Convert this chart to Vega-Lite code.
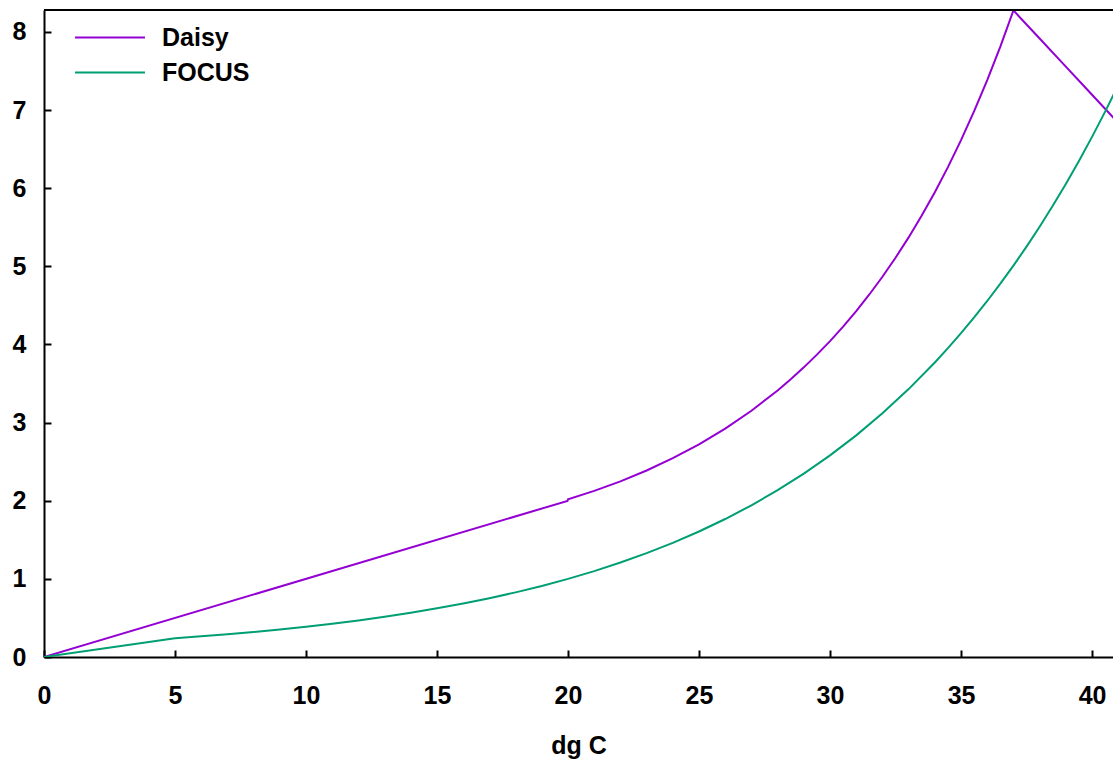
{
  "$schema": "https://vega.github.io/schema/vega-lite/v6.json",
  "width": 1069,
  "height": 647,
  "autosize": {"type": "none"},
  "padding": {"left": 44, "top": 10, "right": 0, "bottom": 103},
  "background": "white",
  "config": {"view": {"stroke": null}, "font": "Liberation Sans"},
  "data": {"values": [
    {"T": 0, "f": 0, "model": "Daisy"},
    {"T": 19.98, "f": 1.998, "model": "Daisy"},
    {"T": 20, "f": 2.0178, "model": "Daisy"},
    {"T": 21, "f": 2.1258, "model": "Daisy"},
    {"T": 22, "f": 2.2482, "model": "Daisy"},
    {"T": 23, "f": 2.3869, "model": "Daisy"},
    {"T": 24, "f": 2.5438, "model": "Daisy"},
    {"T": 25, "f": 2.7217, "model": "Daisy"},
    {"T": 26, "f": 2.9232, "model": "Daisy"},
    {"T": 27, "f": 3.1518, "model": "Daisy"},
    {"T": 28, "f": 3.4114, "model": "Daisy"},
    {"T": 28.5, "f": 3.5542, "model": "Daisy"},
    {"T": 29, "f": 3.7067, "model": "Daisy"},
    {"T": 29.5, "f": 3.8693, "model": "Daisy"},
    {"T": 30, "f": 4.0431, "model": "Daisy"},
    {"T": 30.5, "f": 4.2287, "model": "Daisy"},
    {"T": 31, "f": 4.4271, "model": "Daisy"},
    {"T": 31.5, "f": 4.6392, "model": "Daisy"},
    {"T": 32, "f": 4.8662, "model": "Daisy"},
    {"T": 32.5, "f": 5.1093, "model": "Daisy"},
    {"T": 33, "f": 5.3697, "model": "Daisy"},
    {"T": 33.5, "f": 5.6487, "model": "Daisy"},
    {"T": 34, "f": 5.9481, "model": "Daisy"},
    {"T": 34.5, "f": 6.2693, "model": "Daisy"},
    {"T": 35, "f": 6.6144, "model": "Daisy"},
    {"T": 35.5, "f": 6.9851, "model": "Daisy"},
    {"T": 36, "f": 7.3838, "model": "Daisy"},
    {"T": 36.5, "f": 7.8126, "model": "Daisy"},
    {"T": 37, "f": 8.2745, "model": "Daisy"},
    {"T": 38, "f": 7.915, "model": "Daisy"},
    {"T": 39, "f": 7.555, "model": "Daisy"},
    {"T": 40, "f": 7.195, "model": "Daisy"},
    {"T": 41, "f": 6.835, "model": "Daisy"},
    {"T": 0, "f": 0, "model": "FOCUS"},
    {"T": 5, "f": 0.2413, "model": "FOCUS"},
    {"T": 6, "f": 0.2653, "model": "FOCUS"},
    {"T": 7, "f": 0.2917, "model": "FOCUS"},
    {"T": 8, "f": 0.3207, "model": "FOCUS"},
    {"T": 9, "f": 0.3525, "model": "FOCUS"},
    {"T": 10, "f": 0.3876, "model": "FOCUS"},
    {"T": 11, "f": 0.4261, "model": "FOCUS"},
    {"T": 12, "f": 0.4685, "model": "FOCUS"},
    {"T": 13, "f": 0.5151, "model": "FOCUS"},
    {"T": 14, "f": 0.5663, "model": "FOCUS"},
    {"T": 15, "f": 0.6226, "model": "FOCUS"},
    {"T": 16, "f": 0.6845, "model": "FOCUS"},
    {"T": 17, "f": 0.7525, "model": "FOCUS"},
    {"T": 18, "f": 0.8273, "model": "FOCUS"},
    {"T": 19, "f": 0.9096, "model": "FOCUS"},
    {"T": 20, "f": 1.0, "model": "FOCUS"},
    {"T": 21, "f": 1.0994, "model": "FOCUS"},
    {"T": 22, "f": 1.2087, "model": "FOCUS"},
    {"T": 23, "f": 1.3289, "model": "FOCUS"},
    {"T": 24, "f": 1.461, "model": "FOCUS"},
    {"T": 25, "f": 1.6062, "model": "FOCUS"},
    {"T": 26, "f": 1.7659, "model": "FOCUS"},
    {"T": 27, "f": 1.9415, "model": "FOCUS"},
    {"T": 28, "f": 2.1345, "model": "FOCUS"},
    {"T": 29, "f": 2.3467, "model": "FOCUS"},
    {"T": 30, "f": 2.58, "model": "FOCUS"},
    {"T": 31, "f": 2.8365, "model": "FOCUS"},
    {"T": 32, "f": 3.1185, "model": "FOCUS"},
    {"T": 33, "f": 3.4286, "model": "FOCUS"},
    {"T": 34, "f": 3.7694, "model": "FOCUS"},
    {"T": 34.5, "f": 3.9523, "model": "FOCUS"},
    {"T": 35, "f": 4.1441, "model": "FOCUS"},
    {"T": 35.5, "f": 4.3452, "model": "FOCUS"},
    {"T": 36, "f": 4.5561, "model": "FOCUS"},
    {"T": 36.5, "f": 4.7772, "model": "FOCUS"},
    {"T": 37, "f": 5.009, "model": "FOCUS"},
    {"T": 37.5, "f": 5.2521, "model": "FOCUS"},
    {"T": 38, "f": 5.507, "model": "FOCUS"},
    {"T": 38.5, "f": 5.7743, "model": "FOCUS"},
    {"T": 39, "f": 6.0545, "model": "FOCUS"},
    {"T": 39.5, "f": 6.3483, "model": "FOCUS"},
    {"T": 40, "f": 6.6564, "model": "FOCUS"},
    {"T": 40.5, "f": 6.9795, "model": "FOCUS"},
    {"T": 41, "f": 7.3182, "model": "FOCUS"}
  ]},
  "layer": [
    {
      "mark": {"type": "line", "strokeWidth": 2, "clip": true},
      "encoding": {
        "x": {
          "field": "T", "type": "quantitative",
          "scale": {"domain": [0, 40.8], "nice": false, "zero": false},
          "axis": {
            "title": "dg C", "values": [0, 5, 10, 15, 20, 25, 30, 35, 40],
            "grid": false, "domainColor": "black", "domainWidth": 2,
            "tickColor": "black", "tickWidth": 2, "tickSize": -7,
            "labelFontSize": 25, "labelFontWeight": "bold", "labelColor": "black",
            "labelPadding": 33, "labelFlush": false, "labelOverlap": false,
            "titleFontSize": 25, "titleFontWeight": "bold", "titleColor": "black",
            "titlePadding": 25
          }
        },
        "y": {
          "field": "f", "type": "quantitative",
          "scale": {"domain": [0, 8.28], "nice": false},
          "axis": {
            "title": null, "values": [0, 1, 2, 3, 4, 5, 6, 7, 8], "format": "d",
            "grid": false, "domainColor": "black", "domainWidth": 2,
            "tickColor": "black", "tickWidth": 2, "tickSize": -7,
            "labelFontSize": 25, "labelFontWeight": "bold", "labelColor": "black",
            "labelPadding": 25, "labelFlush": false, "labelOverlap": false
          }
        },
        "color": {
          "field": "model", "type": "nominal",
          "scale": {"domain": ["Daisy", "FOCUS"], "range": ["#9400d3", "#009e73"]},
          "legend": {
            "title": null, "orient": "none", "legendX": 47.5, "legendY": 9,
            "symbolType": "M-2,0H2", "symbolSize": 1225, "symbolStrokeWidth": 2,
            "symbolFillColor": "transparent",
            "labelFontSize": 25, "labelFontWeight": "bold", "labelColor": "black",
            "labelOffset": 33.5, "rowPadding": 3
          }
        }
      }
    },
    {
      "mark": {"type": "rule", "color": "black", "strokeWidth": 2},
      "encoding": {"y": {"datum": 8.28}}
    }
  ]
}
